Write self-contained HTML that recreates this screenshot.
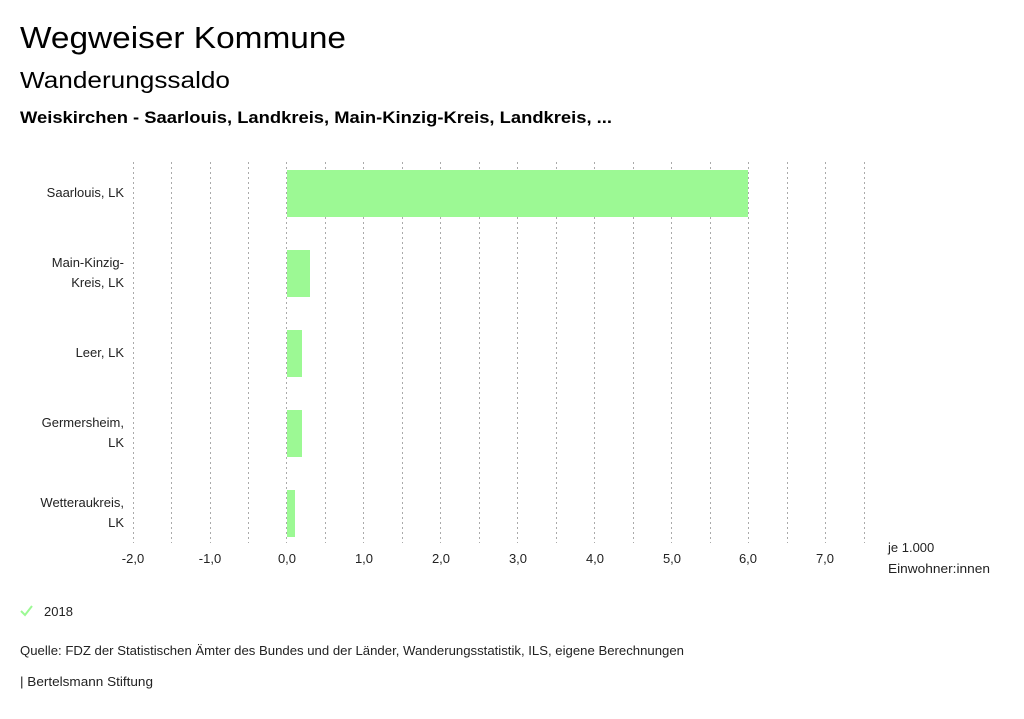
<!DOCTYPE html>
<html><head><meta charset="utf-8"><style>
body{margin:0;background:#fff;width:1024px;height:714px;overflow:hidden;font-family:"Liberation Sans","DejaVu Sans",sans-serif;}
</style></head><body>
<svg width="1024" height="714" xmlns="http://www.w3.org/2000/svg" font-family="Liberation Sans, DejaVu Sans, sans-serif">
<text x="20" y="48" font-size="31" fill="#000" textLength="326" lengthAdjust="spacingAndGlyphs">Wegweiser Kommune</text>
<text x="20" y="88" font-size="23" fill="#000" textLength="210" lengthAdjust="spacingAndGlyphs">Wanderungssaldo</text>
<text x="20" y="123" font-size="17" font-weight="bold" fill="#000" textLength="592" lengthAdjust="spacingAndGlyphs">Weiskirchen - Saarlouis, Landkreis, Main-Kinzig-Kreis, Landkreis, ...</text>
<g stroke="#aaa" stroke-width="1" stroke-dasharray="2,3">
<line x1="133.5" y1="162" x2="133.5" y2="543"/><line x1="171.5" y1="162" x2="171.5" y2="543"/>
<line x1="210.5" y1="162" x2="210.5" y2="543"/><line x1="248.5" y1="162" x2="248.5" y2="543"/>
<line x1="286.5" y1="162" x2="286.5" y2="543"/><line x1="325.5" y1="162" x2="325.5" y2="543"/>
<line x1="363.5" y1="162" x2="363.5" y2="543"/><line x1="402.5" y1="162" x2="402.5" y2="543"/>
<line x1="440.5" y1="162" x2="440.5" y2="543"/><line x1="479.5" y1="162" x2="479.5" y2="543"/>
<line x1="517.5" y1="162" x2="517.5" y2="543"/><line x1="556.5" y1="162" x2="556.5" y2="543"/>
<line x1="594.5" y1="162" x2="594.5" y2="543"/><line x1="633.5" y1="162" x2="633.5" y2="543"/>
<line x1="671.5" y1="162" x2="671.5" y2="543"/><line x1="710.5" y1="162" x2="710.5" y2="543"/>
<line x1="748.5" y1="162" x2="748.5" y2="543"/><line x1="787.5" y1="162" x2="787.5" y2="543"/>
<line x1="825.5" y1="162" x2="825.5" y2="543"/><line x1="864.5" y1="162" x2="864.5" y2="543"/>
</g>
<g fill="#9cf994">
<rect x="287" y="170" width="461" height="47"/>
<rect x="287" y="250" width="23" height="47"/>
<rect x="287" y="330" width="15" height="47"/>
<rect x="287" y="410" width="15" height="47"/>
<rect x="287" y="490" width="8" height="47"/>
</g>
<g font-size="13" fill="#222" text-anchor="end">
<text x="124" y="197">Saarlouis, LK</text>
<text x="124" y="267">Main-Kinzig-</text><text x="124" y="287">Kreis, LK</text>
<text x="124" y="357">Leer, LK</text>
<text x="124" y="427">Germersheim,</text><text x="124" y="447">LK</text>
<text x="124" y="507">Wetteraukreis,</text><text x="124" y="527">LK</text>
</g>
<g font-size="13" fill="#222" text-anchor="middle">
<text x="133" y="563">-2,0</text><text x="210" y="563">-1,0</text><text x="287" y="563">0,0</text>
<text x="364" y="563">1,0</text><text x="441" y="563">2,0</text><text x="518" y="563">3,0</text>
<text x="595" y="563">4,0</text><text x="672" y="563">5,0</text><text x="748" y="563">6,0</text>
<text x="825" y="563">7,0</text>
</g>
<text x="888" y="552" font-size="13" fill="#222">je 1.000</text>
<text x="888" y="573" font-size="13" fill="#222" textLength="102" lengthAdjust="spacingAndGlyphs">Einwohner:innen</text>
<polyline points="21,611 25,615 32,606" fill="none" stroke="#9cf994" stroke-width="2"/>
<text x="44" y="616" font-size="13" fill="#222">2018</text>
<text x="20" y="655" font-size="13" fill="#222" textLength="664" lengthAdjust="spacingAndGlyphs">Quelle: FDZ der Statistischen Ämter des Bundes und der Länder, Wanderungsstatistik, ILS, eigene Berechnungen</text>
<text x="20" y="686" font-size="13" fill="#222" textLength="133" lengthAdjust="spacingAndGlyphs">| Bertelsmann Stiftung</text>
</svg>
</body></html>
